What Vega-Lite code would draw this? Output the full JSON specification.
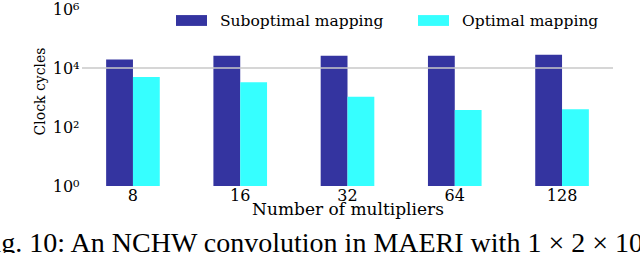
{
  "$schema": "https://vega.github.io/schema/vega-lite/v6.json",
  "autosize": "none",
  "width": 531,
  "height": 177,
  "padding": {"left": 82, "top": 9, "right": 27, "bottom": 67},
  "background": "white",
  "config": {"view": {"stroke": null}},
  "title": {
    "text": "Fig. 10: An NCHW convolution in MAERI with 1 × 2 × 10",
    "orient": "bottom",
    "anchor": "start",
    "frame": "group",
    "dx": -104,
    "offset": 13,
    "font": "Liberation Serif",
    "fontSize": 28,
    "fontWeight": "normal",
    "color": "black",
    "limit": 2000
  },
  "data": {
    "values": [
      {"multipliers": "8", "mapping": "Suboptimal mapping", "cycles": 19600},
      {"multipliers": "8", "mapping": "Optimal mapping", "cycles": 5000},
      {"multipliers": "16", "mapping": "Suboptimal mapping", "cycles": 26000},
      {"multipliers": "16", "mapping": "Optimal mapping", "cycles": 3300},
      {"multipliers": "32", "mapping": "Suboptimal mapping", "cycles": 26000},
      {"multipliers": "32", "mapping": "Optimal mapping", "cycles": 1050},
      {"multipliers": "64", "mapping": "Suboptimal mapping", "cycles": 26000},
      {"multipliers": "64", "mapping": "Optimal mapping", "cycles": 380},
      {"multipliers": "128", "mapping": "Suboptimal mapping", "cycles": 28000},
      {"multipliers": "128", "mapping": "Optimal mapping", "cycles": 400}
    ]
  },
  "layer": [
    {
      "mark": {"type": "bar"},
      "encoding": {
        "x": {
          "field": "multipliers",
          "type": "ordinal",
          "sort": ["8", "16", "32", "64", "128"],
          "scale": {"paddingInner": 0.5, "paddingOuter": 0.225},
          "axis": {
            "title": "Number of multipliers",
            "titleFont": "DejaVu Serif",
            "titleFontSize": 17,
            "titleFontWeight": "normal",
            "titleColor": "black",
            "titlePadding": -2,
            "labelAngle": 0,
            "labelFont": "DejaVu Serif",
            "labelFontSize": 16,
            "labelColor": "black",
            "labelPadding": 1,
            "ticks": false,
            "domain": false,
            "grid": false
          }
        },
        "xOffset": {
          "field": "mapping",
          "type": "nominal",
          "sort": ["Suboptimal mapping", "Optimal mapping"],
          "scale": {"paddingInner": 0, "paddingOuter": 0}
        },
        "y": {
          "field": "cycles",
          "type": "quantitative",
          "scale": {"type": "log", "domain": [1, 1000000], "nice": false},
          "axis": {
            "title": "Clock cycles",
            "titleFont": "DejaVu Serif",
            "titleFontSize": 14,
            "titleFontWeight": "normal",
            "titleColor": "black",
            "titleX": -42,
            "titleY": 82,
            "titleAngle": -90,
            "titleBaseline": "middle",
            "titleAlign": "center",
            "values": [1, 100, 10000, 1000000],
            "labelExpr": "datum.value == 1 ? '10⁰' : datum.value == 100 ? '10²' : datum.value == 10000 ? '10⁴' : '10⁶'",
            "labelFont": "DejaVu Serif",
            "labelFontSize": 16,
            "labelColor": "black",
            "labelPadding": 3,
            "ticks": false,
            "domain": false,
            "grid": false
          }
        },
        "y2": {"datum": 1},
        "color": {
          "field": "mapping",
          "type": "nominal",
          "sort": ["Suboptimal mapping", "Optimal mapping"],
          "scale": {"domain": ["Suboptimal mapping", "Optimal mapping"], "range": ["#3434a0", "#36ffff"]},
          "legend": {
            "title": null,
            "orient": "none",
            "legendX": 94,
            "legendY": -4,
            "direction": "horizontal",
            "padding": 0,
            "columnPadding": 34,
            "labelFont": "DejaVu Serif",
            "labelFontSize": 15.5,
            "labelColor": "black",
            "labelOffset": 13,
            "labelLimit": 400,
            "symbolType": "M-1,-0.35H1V0.35H-1Z",
            "symbolSize": 961,
            "symbolStrokeWidth": 0,
            "symbolOpacity": 1
          }
        }
      }
    },
    {
      "data": {"values": [{"level": 10000}]},
      "mark": {"type": "rule", "color": "#c8c8c8", "strokeWidth": 1.5},
      "encoding": {"y": {"field": "level", "type": "quantitative"}}
    }
  ]
}
